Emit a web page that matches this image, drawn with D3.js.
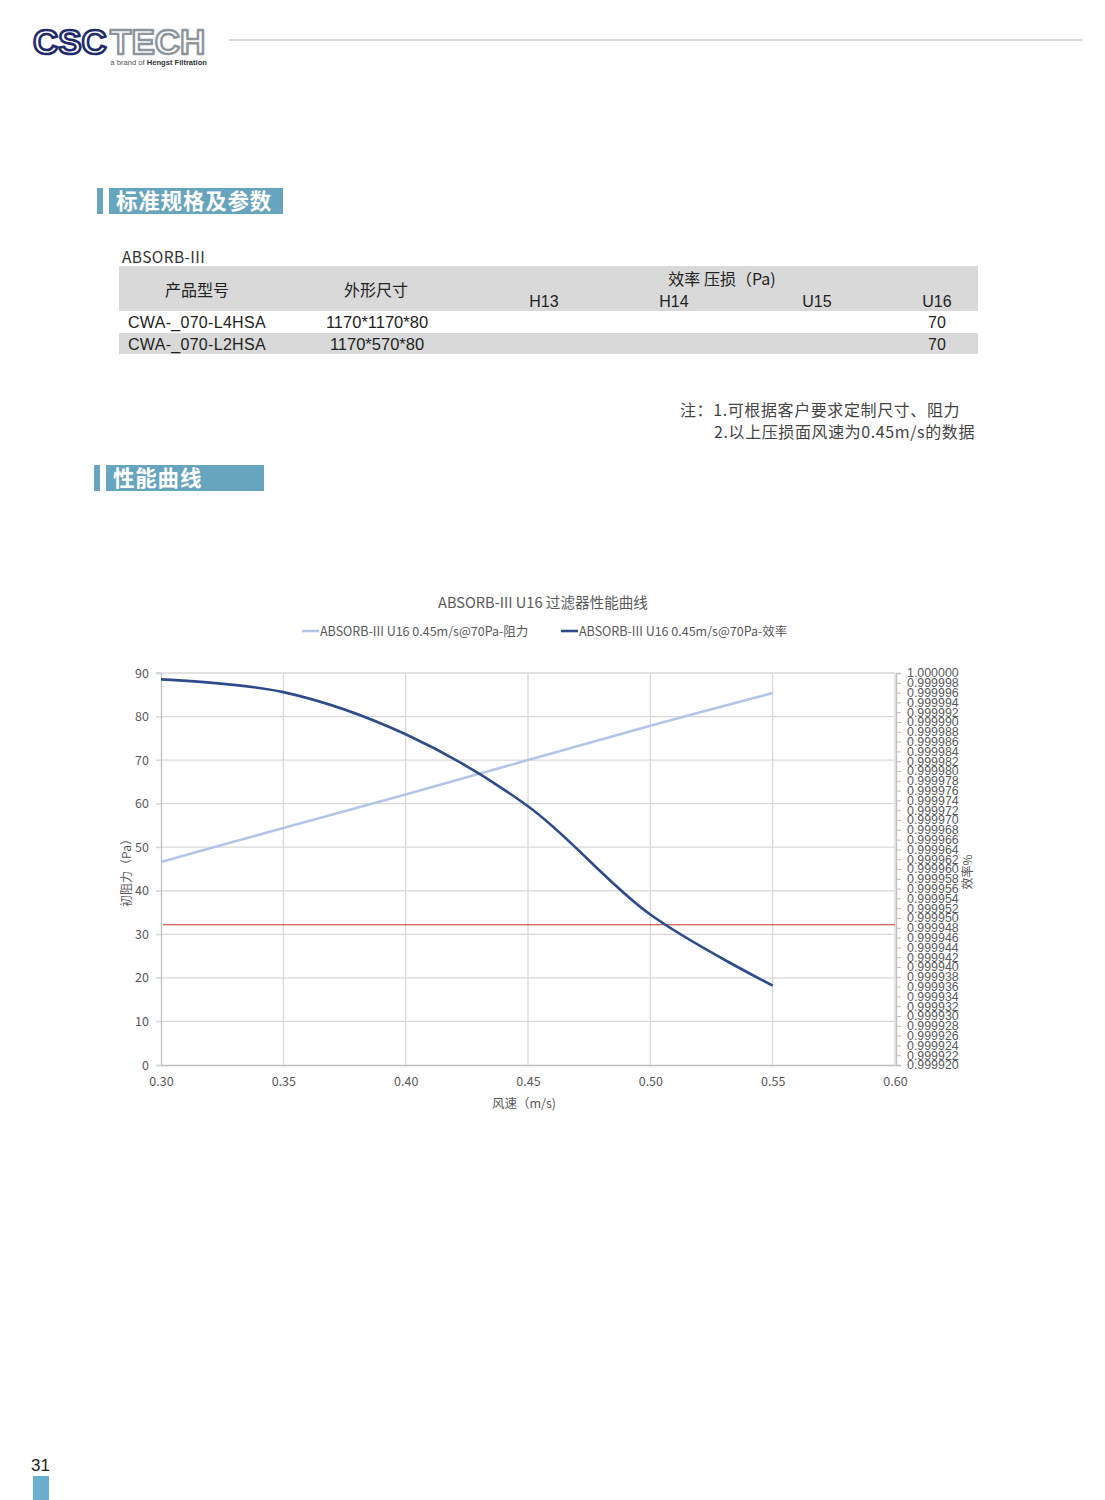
<!DOCTYPE html>
<html><head><meta charset="utf-8">
<script src="https://cdn.jsdelivr.net/npm/d3@7/dist/d3.min.js"></script>
<style>
html,body{margin:0;padding:0;background:#fff;}
svg{display:block;}
</style></head>
<body>
<script>
// ---------- data ----------
const tableCols = ["H13","H14","U15","U16"];
const tableRows = [
  {model:"CWA-_070-L4HSA", size:"1170*1170*80", u16:"70"},
  {model:"CWA-_070-L2HSA", size:"1170*570*80", u16:"70"}
];
const notes = ["注：1.可根据客户要求定制尺寸、阻力","2.以上压损面风速为0.45m/s的数据"];
const xTicks = [0.30,0.35,0.40,0.45,0.50,0.55,0.60];
const yLeftTicks = [0,10,20,30,40,50,60,70,80,90];
const yRightTicks = ["0.999920","0.999922","0.999924","0.999926","0.999928","0.999930","0.999932","0.999934","0.999936","0.999938",
  "0.999940","0.999942","0.999944","0.999946","0.999948","0.999950","0.999952","0.999954","0.999956","0.999958",
  "0.999960","0.999962","0.999964","0.999966","0.999968","0.999970","0.999972","0.999974","0.999976","0.999978",
  "0.999980","0.999982","0.999984","0.999986","0.999988","0.999990","0.999992","0.999994","0.999996","0.999998","1.000000"];
const speed = [0.30,0.35,0.40,0.45,0.50,0.55];
const resistance = [46.6,54.4,62.1,70.0,77.9,85.4];
const efficiency = [0.9999987,0.9999961,0.9999875,0.9999728,0.9999507,0.9999362];
const refLineValue = 32.2; // on left axis
const seriesNames = ["ABSORB-III U16 0.45m/s@70Pa-阻力","ABSORB-III U16 0.45m/s@70Pa-效率"];
const chartTitle = "ABSORB-III U16 过滤器性能曲线";

// ---------- page ----------
const W=1105,H=1500;
const svg=d3.select("body").append("svg").attr("width",W).attr("height",H);
const CJK='"Noto Sans CJK SC","Noto Sans",sans-serif';
const LAT='"Liberation Sans",Arial,sans-serif';

// logo
const logo=svg.append("g");
logo.append("text").attr("x",33).attr("y",54).attr("font-family",LAT).attr("font-weight","bold")
  .attr("font-size",35).attr("fill","#fff").attr("stroke","#1f2b6c").attr("stroke-width",2.6)
  .attr("stroke-linejoin","round").text("CSC");
logo.append("text").attr("x",110).attr("y",54).attr("font-family",LAT).attr("font-weight","bold")
  .attr("font-size",35).attr("fill","#fff").attr("stroke","#8e959d").attr("stroke-width",2.4)
  .attr("stroke-linejoin","round").text("TECH");
const tag=logo.append("text").attr("x",207).attr("y",65).attr("text-anchor","end")
  .attr("font-family",LAT).attr("font-size",7.6);
tag.append("tspan").attr("fill","#555").text("a brand of ");
tag.append("tspan").attr("fill","#333").attr("font-weight","bold").text("Hengst Filtration");
svg.append("line").attr("x1",229).attr("x2",1082).attr("y1",40).attr("y2",40)
  .attr("stroke","#b3b3b3").attr("stroke-width",1.2);

// section headers
function section(x,y,w,label){
  svg.append("rect").attr("x",x).attr("y",y).attr("width",6).attr("height",26).attr("fill","#67a4bd");
  svg.append("rect").attr("x",x+12).attr("y",y).attr("width",w).attr("height",26).attr("fill","#67a4bd");
  svg.append("text").attr("x",x+19).attr("y",y+21).attr("font-family",CJK).attr("font-weight","bold")
    .attr("font-size",21.5).attr("letter-spacing",0.8).attr("fill","#fff").text(label);
}
section(97,188,174,"标准规格及参数");
section(94,465,158,"性能曲线");

// table
svg.append("text").attr("x",122).attr("y",263).attr("font-family",CJK).attr("font-size",15.5)
  .attr("letter-spacing",0.4).attr("fill","#333").text("ABSORB-III");
svg.append("rect").attr("x",119).attr("y",266).attr("width",859).attr("height",45).attr("fill","#d9d9d9");
svg.append("rect").attr("x",119).attr("y",333).attr("width",859).attr("height",21).attr("fill","#d9d9d9");
const tf={ "font-family":CJK, "font-size":16, fill:"#222"};
function tt(x,y,s,anchor){const t=svg.append("text").attr("x",x).attr("y",y).attr("text-anchor",anchor||"middle").text(s);
  Object.entries(tf).forEach(([k,v])=>t.attr(k,v));return t;}
tt(197,296,"产品型号");
tt(376,296,"外形尺寸");
tt(722,285,"效率 压损（Pa)");
const colX=[544,674,817,937];
tableCols.forEach((c,i)=>tt(colX[i],307,c).attr("font-family",LAT).attr("font-size",16));
tableRows.forEach((r,i)=>{
  const y=328+i*22;
  tt(128,y,r.model,"start").attr("font-family",LAT).attr("font-size",16).attr("letter-spacing",0.3);
  tt(377,y,r.size).attr("font-family",LAT).attr("font-size",16.5);
  tt(937,y,r.u16).attr("font-family",LAT).attr("font-size",16);
});
// notes
svg.append("text").attr("x",680).attr("y",416).attr("font-family",CJK).attr("font-size",16).attr("letter-spacing",0.6).attr("fill","#444").text(notes[0]);
svg.append("text").attr("x",714).attr("y",438).attr("font-family",CJK).attr("font-size",16).attr("letter-spacing",0.6).attr("fill","#444").text(notes[1]);

// page number
svg.append("text").attr("x",31).attr("y",1471).attr("font-family",LAT).attr("font-size",17).attr("fill","#222").text("31");
svg.append("rect").attr("x",33).attr("y",1476).attr("width",16).attr("height",24).attr("fill","#6aafcf");

// ---------- chart ----------
const x=d3.scaleLinear().domain([0.30,0.60]).range([161,895]);
const yL=d3.scaleLinear().domain([0,90]).range([1065,673]);
const yR=d3.scaleLinear().domain([+yRightTicks[0],+yRightTicks[yRightTicks.length-1]]).range([1065,673]);
const grid="#d9d9d9", axisC="#bfbfbf", txt="#595959";

const g=svg.append("g");
// horizontal gridlines
g.selectAll("line.hg").data(yLeftTicks.filter(d=>d>0)).join("line")
  .attr("x1",156).attr("x2",895).attr("y1",d=>yL(d)).attr("y2",d=>yL(d))
  .attr("stroke",grid).attr("stroke-width",1.3);
// vertical gridlines
g.selectAll("line.vg").data(xTicks.filter(d=>d>0.3)).join("line")
  .attr("x1",d=>x(d)).attr("x2",d=>x(d)).attr("y1",673).attr("y2",1065)
  .attr("stroke",grid).attr("stroke-width",1.3);

// left axis
const axL=g.append("g").attr("transform","translate(161,0)").call(d3.axisLeft(yL).tickValues(yLeftTicks).tickSize(5).tickPadding(7));
axL.select(".domain").attr("stroke",axisC).attr("stroke-width",1.3);
axL.selectAll(".tick line").attr("stroke",grid);
axL.selectAll("text").attr("font-family",CJK).attr("font-size",12.5).attr("fill",txt);
// bottom axis
const axB=g.append("g").attr("transform","translate(0,1065)").call(d3.axisBottom(x).tickValues(xTicks).tickFormat(d3.format(".2f")).tickSize(0).tickPadding(12));
axB.select(".domain").attr("stroke",axisC).attr("stroke-width",1.3);
axB.selectAll("text").attr("font-family",CJK).attr("font-size",12.5).attr("fill",txt);
// right axis
const axR=g.append("g").attr("transform","translate(896,0)")
  .call(d3.axisRight(yR).tickValues(yRightTicks.map(Number)).tickFormat((d,i)=>yRightTicks[i]).tickSize(5).tickPadding(6));
axR.select(".domain").attr("stroke",axisC).attr("stroke-width",1.3);
axR.selectAll(".tick line").attr("stroke",axisC);
axR.selectAll("text").attr("font-family",LAT).attr("font-size",12.4).attr("fill",txt);

// axis titles
g.append("text").attr("transform","translate(131,870) rotate(-90)").attr("text-anchor","middle")
  .attr("font-family",CJK).attr("font-size",12).attr("fill",txt).text("初阻力（Pa）");
g.append("text").attr("transform","translate(972,872) rotate(-90)").attr("text-anchor","middle")
  .attr("font-family",CJK).attr("font-size",12).attr("fill",txt).text("效率%");
g.append("text").attr("x",524).attr("y",1108).attr("text-anchor","middle")
  .attr("font-family",CJK).attr("font-size",12.5).attr("fill",txt).text("风速（m/s)");

// reference line
g.append("line").attr("x1",163).attr("x2",895).attr("y1",yL(refLineValue)).attr("y2",yL(refLineValue))
  .attr("stroke","#c0392b").attr("stroke-width",1);

// series
const resData=speed.map((s,i)=>[s,resistance[i]]);
const effData=speed.map((s,i)=>[s,efficiency[i]]);
g.append("path").datum(resData).attr("fill","none").attr("stroke","#b4c6e7").attr("stroke-width",2.6)
  .attr("d",d3.line().x(d=>x(d[0])).y(d=>yL(d[1])).curve(d3.curveCatmullRom.alpha(0.5)));
g.append("path").datum(effData).attr("fill","none").attr("stroke","#2f4b8b").attr("stroke-width",2.6)
  .attr("d",d3.line().x(d=>x(d[0])).y(d=>yR(d[1])).curve(d3.curveCatmullRom.alpha(0.5)));

// title and legend
g.append("text").attr("x",543).attr("y",608).attr("text-anchor","middle")
  .attr("font-family",CJK).attr("font-size",14.6).attr("fill",txt).text(chartTitle);
const lg=[{x:302,c:"#b4c6e7",t:seriesNames[0]},{x:561,c:"#2f4b8b",t:seriesNames[1]}];
lg.forEach(l=>{
  g.append("line").attr("x1",l.x).attr("x2",l.x+17).attr("y1",631).attr("y2",631).attr("stroke",l.c).attr("stroke-width",2.6);
  g.append("text").attr("x",l.x+18).attr("y",635.5).attr("font-family",CJK).attr("font-size",12.5).attr("fill",txt).text(l.t);
});
</script>
</body></html>
